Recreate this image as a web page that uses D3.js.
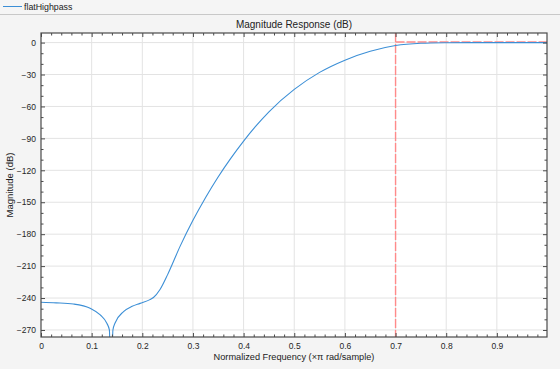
<!DOCTYPE html>
<html>
<head>
<meta charset="utf-8">
<script src="https://cdn.jsdelivr.net/npm/d3@7"></script>
<style>
  body { margin: 0; background: #f4f4f4; }
  svg { display: block; font-family: "Liberation Sans", Arial, sans-serif; }
</style>
</head>
<body>
<div id="chart"></div>
<script>
// magnitude response
var freq = [0, 0.03, 0.064, 0.097, 0.117, 0.13, 0.135, 0.1383, 0.142, 0.146, 0.163, 0.18, 0.1955,
  0.215, 0.222, 0.235, 0.25, 0.275, 0.3, 0.325, 0.35, 0.375, 0.4, 0.45,
  0.5, 0.55, 0.6, 0.65, 0.7, 0.75, 0.8, 0.85, 0.9, 0.999];
var magDb = [-244, -244.5, -245.6, -249.6, -255.9, -263.7, -270, -330, -270, -263.7, -252.8, -247.8, -245,
  -241.5, -239.5, -232, -218, -191, -167, -145.5, -126, -108.5, -92.5, -65,
  -44, -28, -16.5, -8.2, -2.8, -0.7, -0.15, 0, 0, 0];
var xTicks = [0, 0.1, 0.2, 0.3, 0.4, 0.5, 0.6, 0.7, 0.8, 0.9];
var yTicks = [0, -30, -60, -90, -120, -150, -180, -210, -240, -270];
var edgeFreq = 0.7;
var passLevel = 0.6;

var W = 560, H = 369;
var margin = { top: 33, right: 13, bottom: 32, left: 41 },
  width = W - margin.left - margin.right,
  height = H - margin.top - margin.bottom;

var svg = d3.select("#chart").append("svg").attr("width", W).attr("height", H);

// toolbar / legend strip
svg.append("rect").attr("width", W).attr("height", 14).attr("fill", "#f5f5f5");
svg.append("line").attr("x1", 0).attr("x2", W).attr("y1", 14.5).attr("y2", 14.5)
  .attr("stroke", "#c8c8c8");
svg.append("line").attr("x1", 3).attr("x2", 22).attr("y1", 6.5).attr("y2", 6.5)
  .attr("stroke", "#3c8fd6").attr("stroke-width", 1);
svg.append("text").attr("x", 24).attr("y", 9.8).attr("font-size", 8.8).attr("fill", "#222")
  .text("flatHighpass");

var g = svg.append("g").attr("transform", `translate(${margin.left}, ${margin.top})`);

var x = d3.scaleLinear().domain([0, 0.999]).range([0, width]);
var y = d3.scaleLinear().domain([-276.6, 9]).range([height, 0]);

g.append("rect").attr("width", width).attr("height", height).attr("fill", "#fff");

// grid
g.append("g").selectAll("line").data(xTicks.slice(1)).join("line")
  .attr("x1", d => x(d)).attr("x2", d => x(d)).attr("y1", 0).attr("y2", height)
  .attr("stroke", "#e3e3e3");
g.append("g").selectAll("line").data(yTicks).join("line")
  .attr("y1", d => y(d)).attr("y2", d => y(d)).attr("x1", 0).attr("x2", width)
  .attr("stroke", "#e3e3e3");

g.append("clipPath").attr("id", "clip").append("rect").attr("width", width).attr("height", height);

var line = d3.line().x((d, i) => x(freq[i])).y(d => y(d)).curve(d3.curveMonotoneX);

var plot = g.append("g").attr("clip-path", "url(#clip)");

// spec mask
plot.append("line").attr("x1", x(edgeFreq)).attr("x2", x(edgeFreq)).attr("y1", 0).attr("y2", height)
  .attr("stroke", "#ff8a8a").attr("stroke-width", 1.4).attr("stroke-dasharray", "9,2");
plot.append("line").attr("x1", x(edgeFreq)).attr("x2", width).attr("y1", y(passLevel)).attr("y2", y(passLevel))
  .attr("stroke", "#ff8a8a").attr("stroke-width", 1.4).attr("stroke-dasharray", "9,2");

plot.append("path").datum(magDb).attr("d", line).attr("fill", "none")
  .attr("stroke", "#3c8fd6").attr("stroke-width", 1.1);

// axes with inward ticks on all four sides
var axisColor = "#4a4a4a";
var xMinor = d3.range(0, 0.999, 0.02).filter(v => Math.abs(v * 10 - Math.round(v * 10)) > 1e-6);
var yMinor = d3.range(0, -277, -10).filter(v => v % 30 !== 0);

function styleAxis(sel) {
  sel.select(".domain").remove();
  sel.selectAll("line").attr("stroke", axisColor);
  sel.selectAll("text").attr("fill", "#262626").attr("font-size", 8.5);
}

g.append("g").attr("transform", `translate(0, ${height})`)
  .call(d3.axisBottom(x).tickValues(xTicks).tickSize(-4).tickPadding(6).tickFormat(d3.format("")))
  .call(styleAxis);
g.append("g").attr("transform", `translate(0, ${height})`)
  .call(d3.axisBottom(x).tickValues(xMinor).tickSize(-2.5).tickFormat(""))
  .call(styleAxis);
g.append("g")
  .call(d3.axisTop(x).tickValues(xTicks).tickSize(-4).tickFormat(""))
  .call(styleAxis);
g.append("g")
  .call(d3.axisTop(x).tickValues(xMinor).tickSize(-2.5).tickFormat(""))
  .call(styleAxis);

g.append("g")
  .call(d3.axisLeft(y).tickValues(yTicks).tickSize(-4).tickPadding(5).tickFormat(d3.format("")))
  .call(styleAxis);
g.append("g")
  .call(d3.axisLeft(y).tickValues(yMinor).tickSize(-2.5).tickFormat(""))
  .call(styleAxis);
g.append("g").attr("transform", `translate(${width}, 0)`)
  .call(d3.axisRight(y).tickValues(yTicks).tickSize(-4).tickFormat(""))
  .call(styleAxis);
g.append("g").attr("transform", `translate(${width}, 0)`)
  .call(d3.axisRight(y).tickValues(yMinor).tickSize(-2.5).tickFormat(""))
  .call(styleAxis);

g.append("rect").attr("width", width).attr("height", height).attr("fill", "none")
  .attr("stroke", axisColor).attr("stroke-width", 1.2);

// labels
svg.append("text").attr("x", margin.left + width / 2).attr("y", 27.5).attr("text-anchor", "middle")
  .attr("font-size", 10).attr("fill", "#222").text("Magnitude Response (dB)");
svg.append("text").attr("x", margin.left + width / 2).attr("y", 360).attr("text-anchor", "middle")
  .attr("font-size", 9.2).attr("fill", "#222").text("Normalized Frequency (\u00d7\u03c0 rad/sample)");
svg.append("text").attr("transform", `translate(13, ${margin.top + height / 2}) rotate(-90)`)
  .attr("text-anchor", "middle").attr("font-size", 9.5).attr("fill", "#222").text("Magnitude (dB)");
</script>
</body>
</html>
